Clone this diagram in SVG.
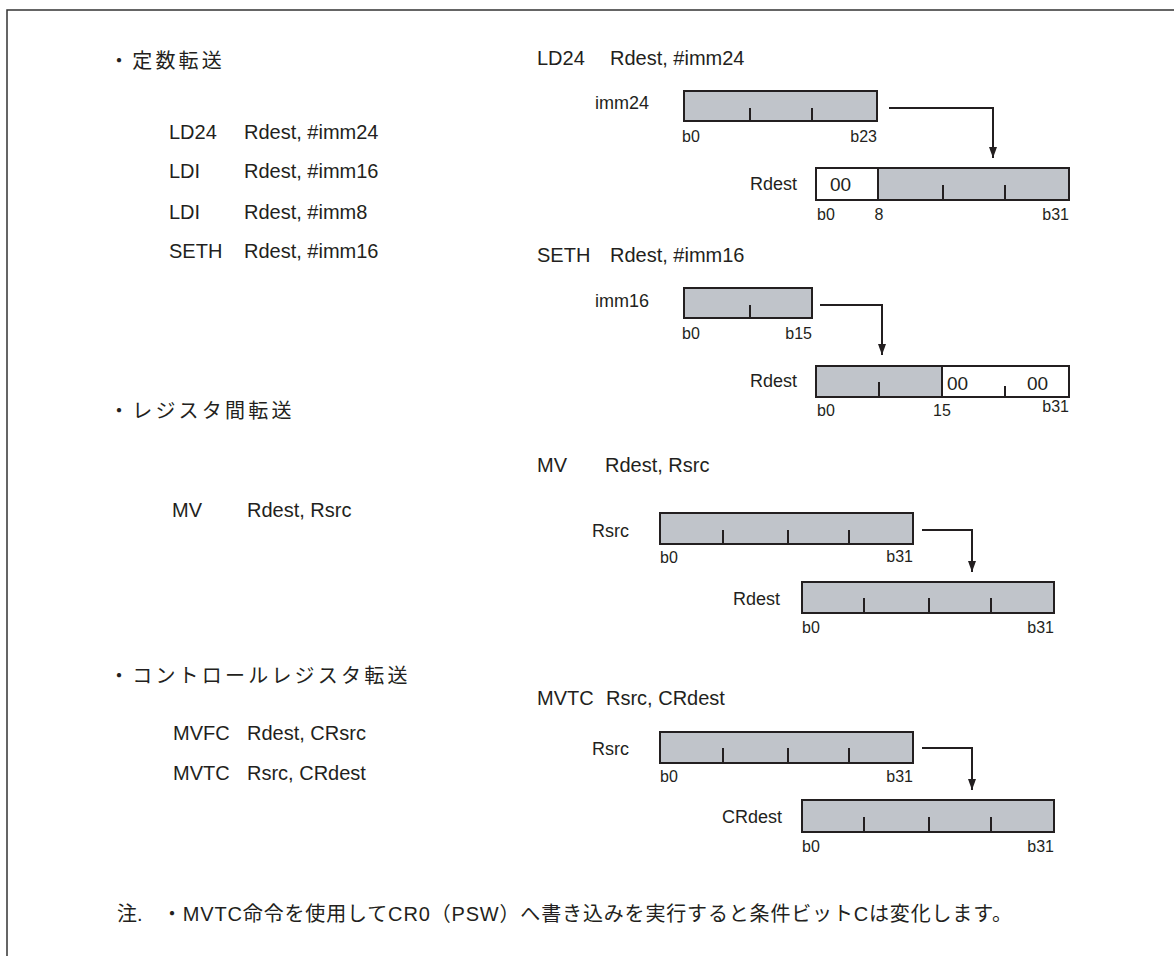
<svg xmlns="http://www.w3.org/2000/svg" width="1174" height="956" viewBox="0 0 1174 956">
<style>
text{font-family:"Liberation Sans","Noto Sans CJK JP",sans-serif;fill:#231f20}
.t20{font-size:20px}
.jp{font-size:20px;letter-spacing:3.2px}
.lbl{font-size:18px}
.bit{font-size:16px}
.val{font-size:19px}
.g{fill:#c0c4ca;stroke:#231f20;stroke-width:2}
.w{fill:#fff;stroke:#231f20;stroke-width:2}
.tk{stroke:#231f20;stroke-width:2}
.ar{fill:none;stroke:#231f20;stroke-width:2;marker-end:url(#ah)}
.frame{fill:none;stroke:#333;stroke-width:1.5}
</style>
<defs>
<marker id="ah" markerUnits="userSpaceOnUse" markerWidth="10" markerHeight="12" refX="4" refY="11" orient="0" viewBox="0 0 8 12">
<path d="M0,0 L8,0 L4,11 z" fill="#231f20"/>
</marker>
</defs>
<rect width="1174" height="956" fill="#fff"/>
<path class="frame" d="M7,956 V10 H1174"/>

<g id="left-text">
<text class="jp" x="109" y="68">・定数転送</text>
<text class="t20" x="169" y="139">LD24</text><text class="t20" x="244" y="139">Rdest, #imm24</text>
<text class="t20" x="169" y="178">LDI</text><text class="t20" x="244" y="178">Rdest, #imm16</text>
<text class="t20" x="169" y="219">LDI</text><text class="t20" x="244" y="219">Rdest, #imm8</text>
<text class="t20" x="169" y="258">SETH</text><text class="t20" x="244" y="258">Rdest, #imm16</text>
<text class="jp" x="109" y="418">・レジスタ間転送</text>
<text class="t20" x="172" y="517">MV</text><text class="t20" x="247" y="517">Rdest, Rsrc</text>
<text class="jp" x="109" y="683">・コントロールレジスタ転送</text>
<text class="t20" x="173" y="740">MVFC</text><text class="t20" x="247" y="740">Rdest, CRsrc</text>
<text class="t20" x="173" y="780">MVTC</text><text class="t20" x="247" y="780">Rsrc, CRdest</text>
</g>

<g id="hdr-ld24"><text class="t20" x="537" y="65">LD24</text><text class="t20" x="610" y="65">Rdest, #imm24</text></g>
<g id="reg-imm24">
<text class="lbl" x="595" y="109">imm24</text>
<rect class="g" x="684" y="91" width="193" height="30"/>
<path class="tk" d="M750,108V121M812,108V121"/>
<text class="bit" x="682" y="142">b0</text><text class="bit" x="877" y="142" text-anchor="end">b23</text>
</g>
<g id="reg-rdest-ld24">
<text class="lbl" x="750" y="190">Rdest</text>
<rect class="w" x="816" y="168" width="62" height="32"/>
<rect class="g" x="878" y="168" width="191" height="32"/>
<text class="val" x="830" y="191">00</text>
<path class="tk" d="M943,185V200M1005,185V200"/>
<text class="bit" x="817" y="220">b0</text><text class="bit" x="879" y="220" text-anchor="middle">8</text><text class="bit" x="1069" y="220" text-anchor="end">b31</text>
</g>

<g id="hdr-seth"><text class="t20" x="537" y="262">SETH</text><text class="t20" x="610" y="262">Rdest, #imm16</text></g>
<g id="reg-imm16">
<text class="lbl" x="595" y="307">imm16</text>
<rect class="g" x="684" y="288" width="128" height="30"/>
<path class="tk" d="M750,305V318"/>
<text class="bit" x="682" y="339">b0</text><text class="bit" x="812" y="339" text-anchor="end">b15</text>
</g>
<g id="reg-rdest-seth">
<text class="lbl" x="750" y="387">Rdest</text>
<rect class="g" x="816" y="366" width="126" height="31"/>
<rect class="w" x="942" y="366" width="127" height="31"/>
<path class="tk" d="M879,382V397M1005,386V397"/>
<text class="val" x="947" y="390">00</text><text class="val" x="1027" y="390">00</text>
<text class="bit" x="817" y="416">b0</text><text class="bit" x="942" y="416" text-anchor="middle">15</text><text class="bit" x="1069" y="412" text-anchor="end">b31</text>
</g>

<g id="hdr-mv"><text class="t20" x="537" y="472">MV</text><text class="t20" x="605" y="472">Rdest, Rsrc</text></g>
<g id="reg-rsrc-mv">
<text class="lbl" x="592" y="537">Rsrc</text>
<rect class="g" x="660" y="513" width="253" height="31"/>
<path class="tk" d="M723,530V544M788,530V544M849,530V544"/>
<text class="bit" x="660" y="563">b0</text><text class="bit" x="913" y="562" text-anchor="end">b31</text>
</g>
<g id="reg-rdest-mv">
<text class="lbl" x="733" y="605">Rdest</text>
<rect class="g" x="802" y="582" width="252" height="31"/>
<path class="tk" d="M864,598V613M929,598V613M991,598V613"/>
<text class="bit" x="802" y="633">b0</text><text class="bit" x="1054" y="633" text-anchor="end">b31</text>
</g>

<g id="hdr-mvtc"><text class="t20" x="537" y="705">MVTC</text><text class="t20" x="606" y="705">Rsrc, CRdest</text></g>
<g id="reg-rsrc-mvtc">
<text class="lbl" x="592" y="755">Rsrc</text>
<rect class="g" x="660" y="732" width="253" height="31"/>
<path class="tk" d="M723,748V763M788,748V763M849,748V763"/>
<text class="bit" x="660" y="782">b0</text><text class="bit" x="913" y="782" text-anchor="end">b31</text>
</g>
<g id="reg-crdest">
<text class="lbl" x="722" y="823">CRdest</text>
<rect class="g" x="802" y="800" width="252" height="32"/>
<path class="tk" d="M864,817V832M929,817V832M991,817V832"/>
<text class="bit" x="802" y="852">b0</text><text class="bit" x="1054" y="852" text-anchor="end">b31</text>
</g>

<g id="connectors">
<path class="ar" d="M889,108H993V158"/>
<path class="ar" d="M820,305H882V355"/>
<path class="ar" d="M922,530H972V572"/>
<path class="ar" d="M922,748H972V790"/>
</g>

<g id="note">
<text class="t20" x="117" y="921">注.</text>
<text class="t20" x="162" y="921" textLength="850" lengthAdjust="spacing">・MVTC命令を使用してCR0（PSW）へ書き込みを実行すると条件ビットCは変化します。</text>
</g>
</svg>
